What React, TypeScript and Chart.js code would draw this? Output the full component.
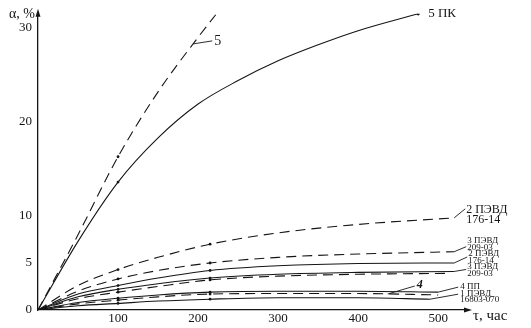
import React, { useEffect, useRef } from "react";
import { Chart, registerables } from "chart.js";
Chart.register(...registerables);

// Axis ticks
const xTicks = [100, 200, 300, 400, 500];
const yTicks = [0, 5, 10, 20, 30];

// Curve 5 (dashed)
const tau5 = [0, 50, 100, 150, 200, 222];
const alpha5 = [0, 8, 16.3, 23.2, 29, 31.4];
// Curve 5 ПК (solid)
const tau5PK = [0, 50, 100, 150, 200, 250, 300, 350, 400, 475];
const alpha5PK = [0, 7.3, 13.6, 18.3, 21.9, 24.4, 26.5, 28.2, 29.7, 31.5];
// Lower group
const tauLow = [0, 50, 100, 150, 215, 300, 400, 520];
const alpha2PEVDdash = [0, 2.6, 4.3, 5.6, 7.0, 8.2, 9.1, 9.8];
const alpha3PEVDdash = [0, 2.0, 3.3, 4.2, 5.0, 5.6, 5.95, 6.2];
const alpha2PEVDsolid = [0, 1.7, 2.6, 3.4, 4.2, 4.7, 4.95, 5.0];
const alpha3PEVDsolid = [0, 1.4, 2.2, 2.8, 3.4, 3.8, 4.0, 4.1];
const tau3b = [0, 50, 100, 150, 215, 300, 400, 515];
const alpha3PEVDdash2 = [0, 1.2, 1.9, 2.5, 3.2, 3.6, 3.8, 3.9];
const tau4 = [0, 50, 100, 150, 215, 300, 400, 500];
const alpha4PP = [0, 0.8, 1.25, 1.6, 1.9, 2.0, 2.0, 1.9];
const alpha4dash = [0, 0.65, 1.05, 1.4, 1.7, 1.75, 1.75, 1.6];
const tau1 = [0, 50, 100, 150, 215, 300, 400, 490];
const alpha1PEVD = [0, 0.45, 0.7, 0.95, 1.15, 1.3, 1.3, 1.15];

const markTau = [100, 215];

const pts = (xs: number[], ys: number[]) => xs.map((x, i) => ({ x, y: ys[i] }));

const INK = "#151515";
const SERIF = "'Liberation Serif', 'DejaVu Serif', serif";

function mkSet(label: string, xs: number[], ys: number[], dashed: boolean, endDot = false) {
  return {
    label,
    data: pts(xs, ys),
    borderColor: INK,
    backgroundColor: INK,
    borderWidth: 1.1,
    borderDash: dashed ? [10, 6] : [],
    cubicInterpolationMode: "monotone" as const,
    pointRadius: (c: any) => {
      const r = c.raw;
      if (!r) return 0;
      if (endDot && c.dataIndex === ys.length - 1) return 1.6;
      return markTau.includes(r.x) && r.x !== 0 ? 1.4 : 0;
    },
    pointBorderWidth: 0,
    fill: false,
  };
}

const annotations = [
  { set: 1, idx: 9, dx: 0, dy: 0, tx: 10, ty: 0, lines: ["5 ПК"], size: 13, lead: false },
  { set: 0, tau: 194, alpha: 28.3, dx: 19, dy: -3, tx: 21, ty: -3, lines: ["5"], size: 14, lead: true },
  { set: 2, idx: 7, dx: 11, dy: -9, tx: 12, ty: -8, lines: ["2 ПЭВД", "176-14"], size: 12, lead: true, gap: 10 },
  { set: 3, idx: 7, dx: 12, dy: -5, tx: 13, ty: -11, lines: ["3 ПЭВД", "209-03"], size: 9, lead: true, gap: 7 },
  { set: 4, idx: 7, dx: 13, dy: -6, tx: 14, ty: -9, lines: ["2 ПЭВД", "176-14"], size: 9, lead: true, gap: 7 },
  { set: 5, idx: 7, dx: 12, dy: -2, tx: 13, ty: -5, lines: ["3 ПЭВД", "209-03"], size: 9, lead: true, gap: 7 },
  { set: 7, idx: 7, dx: 20, dy: -5, tx: 22, ty: -5, lines: ["4 ПП"], size: 9, lead: true },
  { set: 9, idx: 7, dx: 28, dy: -5, tx: 30, ty: -6, lines: ["1 ПЭВД", "16803-070"], size: 9, lead: true, gap: 6 },
  { set: 8, tau: 437, alpha: 1.7, dx: 27, dy: -8, tx: 29, ty: -9, lines: ["4"], size: 12, lead: true, bold: true },
];

const labelPlugin = {
  id: "labels",
  afterDraw(chart: any) {
    const { ctx, chartArea, scales } = chart;
    const xs = scales.x;
    const ys = scales.y;
    ctx.save();
    ctx.strokeStyle = INK;
    ctx.fillStyle = INK;
    // axis arrows
    ctx.beginPath();
    ctx.moveTo(chartArea.left, chartArea.top - 5);
    ctx.lineTo(chartArea.left - 2.5, chartArea.top + 3);
    ctx.lineTo(chartArea.left + 2.5, chartArea.top + 3);
    ctx.closePath();
    ctx.fill();
    ctx.beginPath();
    ctx.moveTo(chartArea.right + 5, chartArea.bottom);
    ctx.lineTo(chartArea.right - 3, chartArea.bottom - 2.5);
    ctx.lineTo(chartArea.right - 3, chartArea.bottom + 2.5);
    ctx.closePath();
    ctx.fill();
    // axis titles
    ctx.font = `14px ${SERIF}`;
    ctx.textBaseline = "middle";
    ctx.textAlign = "right";
    ctx.fillText("α, %", chartArea.left - 3, chartArea.top + 1);
    ctx.font = `15px ${SERIF}`;
    ctx.textAlign = "left";
    ctx.fillText("τ, час", chartArea.right + 6, chartArea.bottom + 6);
    // curve labels
    ctx.lineWidth = 0.9;
    annotations.forEach((a: any) => {
      let px: number, py: number;
      if (a.tau !== undefined) {
        px = xs.getPixelForValue(a.tau);
        py = ys.getPixelForValue(a.alpha);
      } else {
        const p = chart.getDatasetMeta(a.set).data[a.idx];
        px = p.x;
        py = p.y;
      }
      if (a.lead) {
        ctx.beginPath();
        ctx.moveTo(px, py);
        ctx.lineTo(px + a.dx, py + a.dy);
        ctx.stroke();
      }
      ctx.font = `${a.bold ? "bold italic " : ""}${a.size}px ${SERIF}`;
      ctx.textAlign = "left";
      ctx.textBaseline = "middle";
      const gap = a.gap || a.size;
      a.lines.forEach((t: string, i: number) => {
        ctx.fillText(t, px + a.tx, py + a.ty + i * gap);
      });
    });
    ctx.restore();
  },
};

export default function App() {
  const ref = useRef<HTMLCanvasElement>(null);
  useEffect(() => {
    document.body.style.margin = "0";
    const chart = new Chart(ref.current!, {
      type: "line",
      data: {
        datasets: [
          mkSet("5", tau5, alpha5, true),
          mkSet("5 ПК", tau5PK, alpha5PK, false, true),
          mkSet("2 ПЭВД 176-14 (dashed)", tauLow, alpha2PEVDdash, true),
          mkSet("3 ПЭВД 209-03 (dashed)", tauLow, alpha3PEVDdash, true),
          mkSet("2 ПЭВД 176-14", tauLow, alpha2PEVDsolid, false),
          mkSet("3 ПЭВД 209-03", tauLow, alpha3PEVDsolid, false),
          mkSet("3 ПЭВД 209-03 (dashed 2)", tau3b, alpha3PEVDdash2, true),
          mkSet("4 ПП", tau4, alpha4PP, false),
          mkSet("4", tau4, alpha4dash, true),
          mkSet("1 ПЭВД 16803-070", tau1, alpha1PEVD, false),
        ],
      },
      options: {
        responsive: false,
        animation: false,
        layout: { padding: { left: 0, right: 64, top: 6, bottom: 0 } },
        plugins: { legend: { display: false }, tooltip: { enabled: false } },
        scales: {
          x: {
            type: "linear",
            min: 0,
            max: 536,
            grid: { display: false, drawTicks: false, tickLength: 0 },
            border: { display: true, color: INK, width: 1.3 },
            ticks: { color: INK, font: { family: SERIF, size: 13 }, padding: 1, maxRotation: 0 },
            afterBuildTicks: (s: any) => {
              s.ticks = xTicks.map((v) => ({ value: v }));
            },
            afterFit: (s: any) => {
              s.height = 18;
            },
          },
          y: {
            type: "linear",
            min: 0,
            max: 31.5,
            grid: { display: false, drawTicks: false, tickLength: 0 },
            border: { display: true, color: INK, width: 1.3 },
            ticks: { color: INK, font: { family: SERIF, size: 13 }, padding: 6 },
            afterBuildTicks: (s: any) => {
              s.ticks = yTicks.map((v) => ({ value: v }));
            },
            afterFit: (s: any) => {
              s.width = 38;
            },
          },
        },
      },
      plugins: [labelPlugin],
    });
    return () => chart.destroy();
  }, []);
  return (
    <div style={{ width: 531, height: 328, background: "#fff" }}>
      <canvas ref={ref} width={531} height={328} />
    </div>
  );
}
